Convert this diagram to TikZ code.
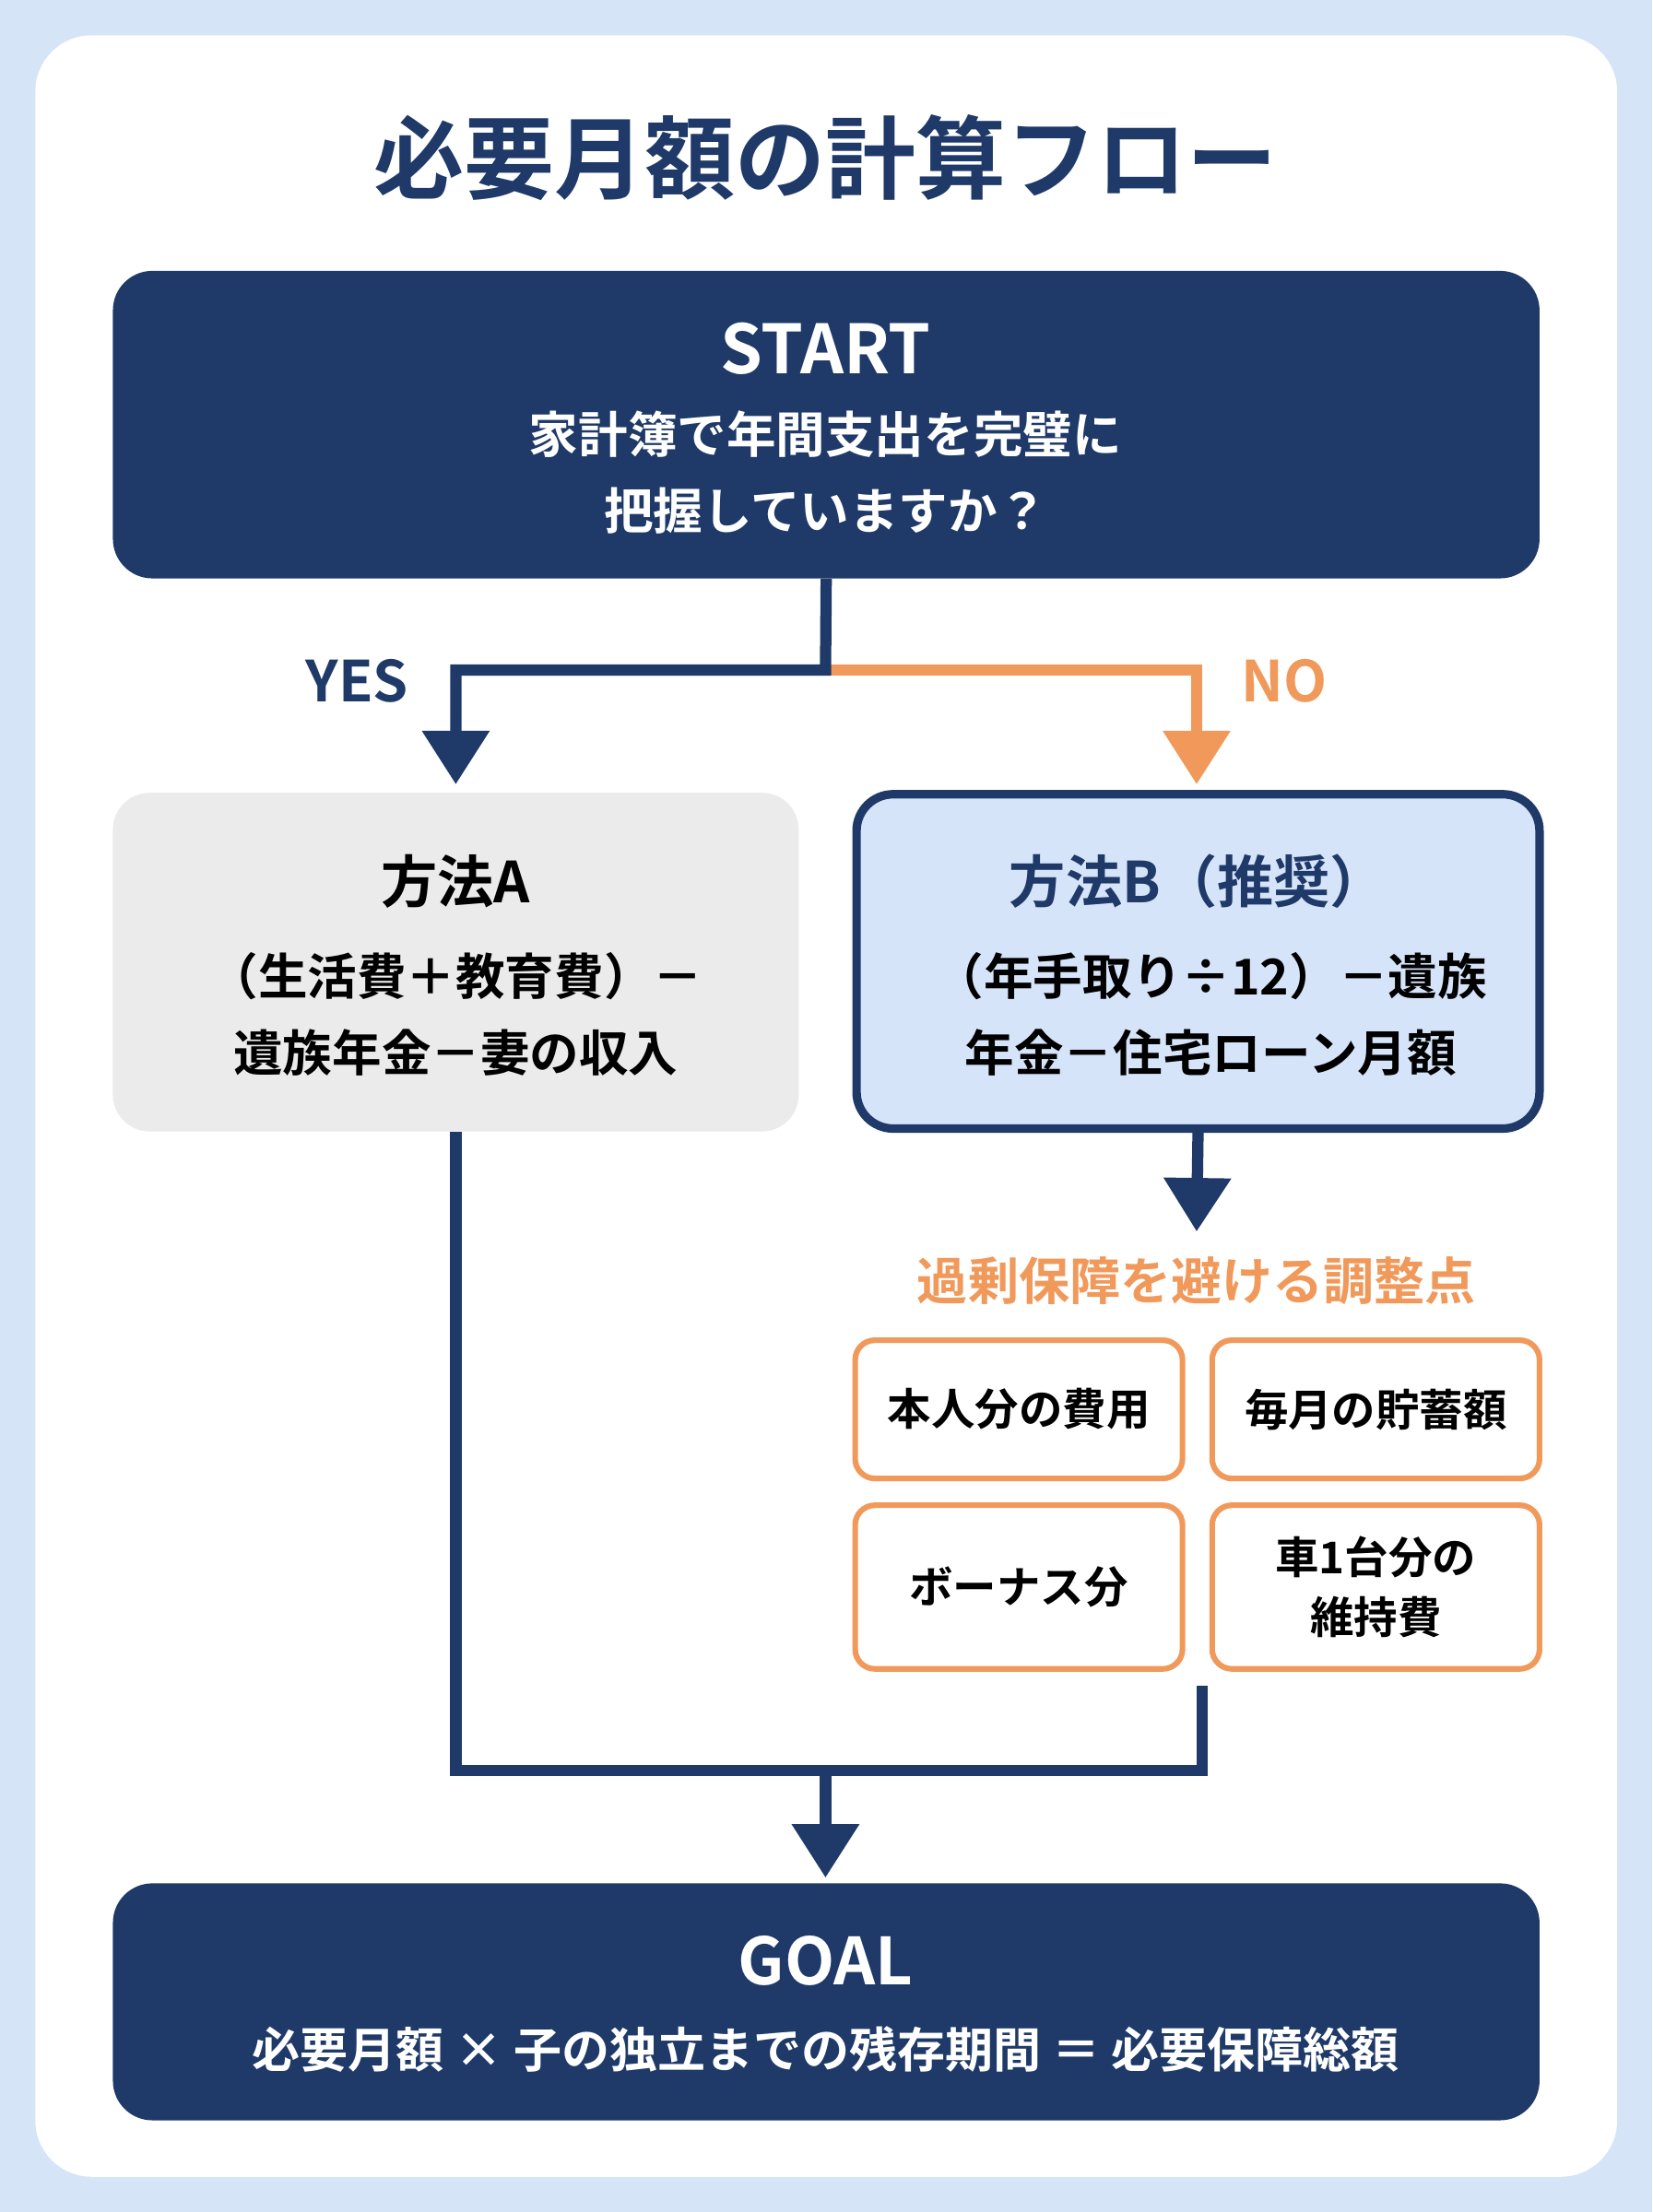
\documentclass[tikz,border=0pt]{standalone}
\usepackage{fontspec}
\setmainfont{Noto Sans CJK JP}[BoldFont={Noto Sans CJK JP Bold}]
\usetikzlibrary{arrows.meta}
\definecolor{navy}{HTML}{1F3A68}
\definecolor{bgblue}{HTML}{D6E4F7}
\definecolor{lblue}{HTML}{D6E4F9}
\definecolor{grayf}{HTML}{EBEBEB}
\definecolor{orng}{HTML}{F0995A}
\begin{document}
\begin{tikzpicture}[x=1pt,y=-1pt,
  box/.style={rounded corners=28pt,inner sep=0pt,align=center,font=\bfseries},
  small/.style={draw=orng,line width=4pt,fill=white,rounded corners=14pt,minimum width=232pt,inner sep=0pt,align=center,font=\bfseries\fontsize{31}{42}\selectfont},
  conn/.style={line width=8pt,navy},
  arr/.style={-{Triangle[width=46pt,length=38pt]}},
  lbl/.style={font=\bfseries\fontsize{40}{44}\selectfont}]
\useasboundingbox (0,0) rectangle (1171,1568);
\fill[bgblue] (0,0) rectangle (1171,1568);
\fill[white,rounded corners=40pt] (25,25) rectangle (1146,1543);
\node[font=\bfseries\fontsize{64}{70}\selectfont,text=navy] (title) at (585,112) {必要月額の計算フロー};
\node[box,fill=navy,text=white,minimum width=1011pt,minimum height=218pt] (start) at (585.5,301) {};
\node[text=white,font=\bfseries\fontsize{48}{50}\selectfont] (st) at (585,247) {START};
\node[text=white,font=\bfseries\fontsize{35}{54}\selectfont,align=center] (stq) at (585,335) {家計簿で年間支出を完璧に\\把握していますか？};
\node[box,fill=grayf,minimum width=486pt,minimum height=240pt,rounded corners=26pt] (A) at (323,682) {};
\node[font=\bfseries\fontsize{40}{44}\selectfont] (At) at (323,625) {方法A};
\node[font=\bfseries\fontsize{35}{54}\selectfont,align=center] (Ab) at (323,719) {（生活費＋教育費）－\\遺族年金－妻の収入};
\node[box,fill=lblue,draw=navy,line width=6pt,minimum width=484pt,minimum height=237pt,rounded corners=26pt] (B) at (849,681.5) {};
\node[font=\bfseries\fontsize{40}{44}\selectfont,text=navy] (Bt) at (849,625) {方法B（推奨）};
\node[font=\bfseries\fontsize{35}{54}\selectfont,align=center] (Bb) at (858,719) {（年手取り÷12）－遺族\\年金－住宅ローン月額};
\node[font=\bfseries\fontsize{36}{40}\selectfont,text=orng] (adj) at (848,908) {過剰保障を避ける調整点};
\node[small,minimum height=98pt] (s1) at (722,999) {本人分の費用};
\node[small,minimum height=98pt] (s2) at (975,999) {毎月の貯蓄額};
\node[small,minimum height=116pt] (s3) at (722,1125) {ボーナス分};
\node[small,minimum height=116pt] (s4) at (975,1125) {車1台分の\\維持費};
\node[box,fill=navy,text=white,minimum width=1011pt,minimum height=168pt] (goal) at (585.5,1419) {};
\node[text=white,font=\bfseries\fontsize{46}{50}\selectfont] (gt) at (585,1390) {GOAL};
\node[text=white,font=\bfseries\fontsize{34}{40}\selectfont] (gb) at (585,1453) {必要月額 × 子の独立までの残存期間 ＝ 必要保障総額};
\node[lbl,text=navy] (yes) at (253,483) {YES};
\node[lbl,text=orng] (no) at (910,483) {NO};
\coordinate (j) at (585,475);
\coordinate (m) at (585,1255);
\coordinate (b2) at (852,1195);
\draw[conn,line width=8pt,orng,arr] (j) -- (848,475) -- (848,556);
\draw[conn,arr] (start.south) -- (j) -| (323,556);
\draw[conn,arr] (B.south) -- (848,873);
\draw[conn] (A.south) -- (323,1255) -- (852,1255) -- (b2);
\draw[conn,arr] (m) -- (585,1331);
\end{tikzpicture}
\end{document}
